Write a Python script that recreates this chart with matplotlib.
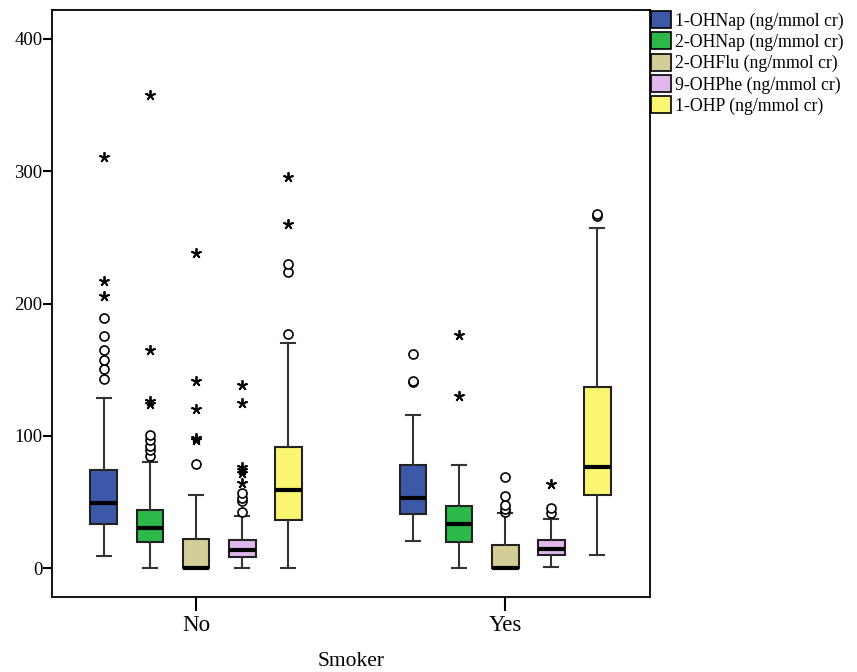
"""
Boxplot of urinary PAH metabolites by smoking status (SPSS style).
"""

import matplotlib
matplotlib.use('Agg')
import matplotlib.pyplot as plt
from matplotlib.patches import Patch

plt.rcParams['font.family'] = ['Liberation Serif', 'DejaVu Serif']

groups = ['No', 'Yes']
series = ['1-OHNap (ng/mmol cr)', '2-OHNap (ng/mmol cr)', '2-OHFlu (ng/mmol cr)',
          '9-OHPhe (ng/mmol cr)', '1-OHP (ng/mmol cr)']
colors = ['#3C58A8', '#2DB84A', '#D3CE98', '#E0B8EE', '#FAF672']

# box statistics per group, one value per series
q1 = {'No': [33.3, 19.5, 0, 8.6, 36.1], 'Yes': [40.9, 19.7, 0, 9.6, 55.3]}
med = {'No': [49.2, 30.3, 0, 13.9, 59.3], 'Yes': [53.3, 33.3, 0, 14.4, 76.5]}
q3 = {'No': [74.2, 44.2, 22.0, 21.0, 91.4], 'Yes': [77.8, 47.2, 17.2, 21.2, 136.6]}
whislo = {'No': [9.1, 0, 0, 0, 0], 'Yes': [20.7, 0, 0, 0.8, 10.1]}
whishi = {'No': [128.8, 79.8, 55.1, 39.4, 170.2], 'Yes': [115.9, 78.0, 41.9, 37.4, 257.0]}

# outliers (circles) and extreme values (stars)
circles = {
    'No': [[143, 150.5, 157.6, 164.6, 175.5, 189.4], [85, 89, 92, 97, 100.5], [79],
           [42.7, 51, 53, 56.6], [177, 224, 229.5]],
    'Yes': [[140.5, 141.5, 162], [], [42.7, 44.4, 47.7, 54.5, 69], [41.4, 45.2], [266.5, 268]],
}
stars = {
    'No': [[205.5, 217, 311], [124, 126, 165, 358], [97, 98.5, 120.5, 141.4, 238.4],
           [64.6, 72, 74.2, 76.3, 124.7, 138.1], [260.4, 296]],
    'Yes': [[], [130, 176], [], [63.6], []],
}

fig = plt.figure(figsize=(8.57, 6.72), dpi=100)
ax = fig.add_axes([52 / 857, 1 - 597 / 672, 598 / 857, 587 / 672])

offset = 0.149
width = 0.087

for g, grp in enumerate(groups):
    for i in range(len(series)):
        pos = g + 1 + (i - 2) * offset
        stats = [dict(q1=q1[grp][i], med=med[grp][i], q3=q3[grp][i],
                      whislo=whislo[grp][i], whishi=whishi[grp][i], fliers=[])]
        ax.bxp(stats, positions=[pos], widths=width, patch_artist=True,
               showfliers=False, manage_ticks=False,
               boxprops=dict(facecolor=colors[i], edgecolor='#222222', linewidth=1.5),
               medianprops=dict(color='black', linewidth=3),
               whiskerprops=dict(color='#333333', linewidth=1.5),
               capprops=dict(color='#333333', linewidth=1.5))
        c = circles[grp][i]
        if c:
            ax.plot([pos] * len(c), c, linestyle='none', marker='o', markersize=6.5,
                    markerfacecolor='white', markeredgecolor='black', markeredgewidth=1.2)
        s = stars[grp][i]
        if s:
            ax.plot([pos] * len(s), s, linestyle='none', marker=(5, 2, 0), markersize=7.5,
                    color='black', markeredgewidth=1.3)

ax.set_xlim(0.534, 2.469)
ax.set_ylim(-21.9, 421.9)
ax.set_yticks([0, 100, 200, 300, 400])
ax.set_xticks([1, 2])
ax.set_xticklabels(groups)
ax.tick_params(axis='y', direction='out', length=6.5, width=1.5, labelsize=13.5, pad=0.5)
ax.tick_params(axis='x', direction='out', length=10, width=1.5, labelsize=16.5, pad=3)
for sp in ax.spines.values():
    sp.set_linewidth(1.3)
ax.set_xlabel('Smoker', fontsize=15.5)
ax.xaxis.set_label_coords(0.5, -0.094)

handles = [Patch(facecolor=c, edgecolor='black', linewidth=1.2) for c in colors]
fig.legend(handles, series, loc='upper left', bbox_to_anchor=(651 / 857, 1 - 11 / 672),
           frameon=False, fontsize=12.8, handlelength=1.1, handleheight=1.1,
           handletextpad=0.25, labelspacing=0.15, borderpad=0, borderaxespad=0)

plt.savefig('out.png', dpi=100)
